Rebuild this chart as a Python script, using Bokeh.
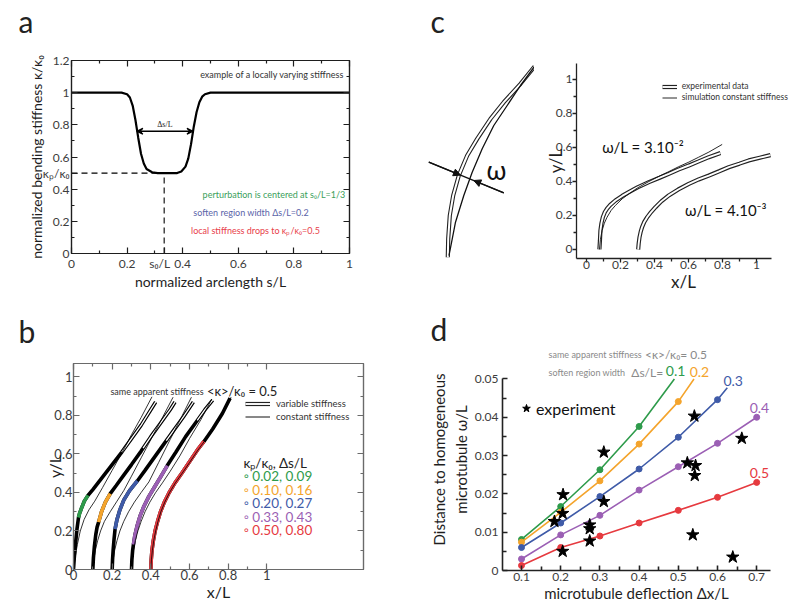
from math import pi
from bokeh.plotting import figure
from bokeh.layouts import row, column
from bokeh.models import (Label, LinearAxis, FixedTicker, Arrow, NormalHead, VeeHead,
                          Range1d, CustomJSTickFormatter, Legend, LegendItem)
from bokeh.embed import file_html
from bokeh.resources import INLINE

FONT = "Lato"
SERIF = "Liberation Serif"
INK = "#1e1e1e"
TICK_INK = "#3c3c3c"
GREEN, ORANGE, BLUE, PURPLE, RED = "#2e9b4b", "#f4a42c", "#3f5ba8", "#9b5fb4", "#e63a3f"
NAN = float("nan")
NBSP = "\u00a0"

# ---------------- data: panel a ----------------
a_s = [0, 0.18, 0.20, 0.21, 0.22, 0.23, 0.24, 0.25, 0.26, 0.27, 0.29, 0.31, 0.38, 0.395,
       0.41, 0.42, 0.43, 0.44, 0.45, 0.46, 0.47, 0.48, 0.50, 1.0]
a_kappa = [1, 1, 0.99, 0.97, 0.92, 0.83, 0.72, 0.62, 0.56, 0.525, 0.505, 0.50, 0.50, 0.51,
           0.54, 0.59, 0.68, 0.79, 0.88, 0.94, 0.975, 0.99, 1, 1]
a_xticks = [0, 0.2, 0.4, 0.6, 0.8, 1]
a_xminor = [0.1, 0.3, 0.5, 0.7, 0.9]
a_yticks = [0, 0.2, 0.4, 0.6, 0.8, 1, 1.2]
a_yminor = [0.1, 0.3, 0.5, 0.7, 0.9, 1.1]
a_s0 = 1 / 3
a_kp = 0.5
a_ds_ends = [0.235, 0.437]
a_ds_level = 0.76

# ---------------- data: panel b ----------------
b_var = [
    ([0, 0.004, 0.01, 0.018, 0.026, 0.031, 0.042, 0.056, 0.075, 0.10, 0.15, 0.20, 0.25, 0.30, 0.35, 0.40, 0.425],
     [0, 0.06, 0.13, 0.21, 0.27, 0.29, 0.32, 0.355, 0.385, 0.415, 0.48, 0.545, 0.61, 0.68, 0.75, 0.83, 0.87]),
    ([0.1, 0.103, 0.108, 0.115, 0.122, 0.13, 0.145, 0.165, 0.19, 0.22, 0.26, 0.3, 0.35, 0.4, 0.45, 0.5, 0.525],
     [0, 0.06, 0.12, 0.18, 0.22, 0.246, 0.3, 0.35, 0.394, 0.435, 0.49, 0.545, 0.615, 0.69, 0.76, 0.83, 0.87]),
    ([0.2, 0.202, 0.205, 0.21, 0.215, 0.225, 0.24, 0.26, 0.29, 0.33, 0.37, 0.42, 0.47, 0.52, 0.57, 0.62],
     [0, 0.05, 0.1, 0.16, 0.21, 0.26, 0.31, 0.36, 0.41, 0.46, 0.515, 0.585, 0.655, 0.725, 0.795, 0.87]),
    ([0.3, 0.302, 0.306, 0.31, 0.318, 0.33, 0.345, 0.365, 0.39, 0.42, 0.45, 0.485, 0.53, 0.58, 0.63, 0.68, 0.72],
     [0, 0.05, 0.1, 0.13, 0.18, 0.23, 0.28, 0.33, 0.38, 0.43, 0.48, 0.54, 0.61, 0.69, 0.76, 0.83, 0.88]),
    ([0.4, 0.402, 0.406, 0.413, 0.422, 0.435, 0.45, 0.47, 0.495, 0.525, 0.56, 0.6, 0.64, 0.675, 0.72, 0.77, 0.81],
     [0, 0.05, 0.1, 0.15, 0.2, 0.25, 0.3, 0.35, 0.4, 0.45, 0.5, 0.56, 0.62, 0.665, 0.73, 0.81, 0.89]),
]
b_soft = [
    ([0.026, 0.031, 0.042, 0.056, 0.075], [0.27, 0.29, 0.32, 0.355, 0.385]),
    ([0.13, 0.145, 0.165, 0.19], [0.246, 0.3, 0.35, 0.394]),
    ([0.215, 0.225, 0.24, 0.26, 0.29, 0.33], [0.21, 0.26, 0.31, 0.36, 0.41, 0.46]),
    ([0.31, 0.318, 0.33, 0.345, 0.365, 0.39, 0.42, 0.45, 0.485], [0.13, 0.18, 0.23, 0.28, 0.33, 0.38, 0.43, 0.48, 0.54]),
    ([0.4, 0.402, 0.406, 0.413, 0.422, 0.435, 0.45, 0.47, 0.495, 0.525, 0.56, 0.6, 0.64, 0.675],
     [0, 0.05, 0.1, 0.15, 0.2, 0.25, 0.3, 0.35, 0.4, 0.45, 0.5, 0.56, 0.62, 0.665]),
]
# upper parts where the individual open circles of the variable-stiffness data are visible
b_open = [
    ([0.25, 0.30, 0.35, 0.40, 0.425], [0.61, 0.68, 0.75, 0.83, 0.87]),
    ([0.36, 0.4, 0.45, 0.5, 0.525], [0.63, 0.69, 0.76, 0.83, 0.87]),
    ([0.48, 0.52, 0.57, 0.62], [0.67, 0.725, 0.795, 0.87]),
    ([0.64, 0.68, 0.72], [0.775, 0.83, 0.88]),
]
b_const = [
    ([0, 0.008, 0.02, 0.035, 0.055, 0.08, 0.11, 0.15, 0.2, 0.25, 0.3, 0.35, 0.406],
     [0, 0.06, 0.13, 0.2, 0.26, 0.31, 0.355, 0.425, 0.515, 0.605, 0.7, 0.79, 0.897]),
    ([0.1, 0.105, 0.113, 0.125, 0.14, 0.16, 0.19, 0.225, 0.26, 0.3, 0.35, 0.4, 0.45, 0.515],
     [0, 0.05, 0.1, 0.15, 0.2, 0.25, 0.3, 0.355, 0.41, 0.485, 0.58, 0.675, 0.77, 0.895]),
    ([0.2, 0.205, 0.213, 0.225, 0.24, 0.26, 0.285, 0.315, 0.35, 0.39, 0.44, 0.5, 0.56, 0.61],
     [0, 0.05, 0.1, 0.15, 0.2, 0.25, 0.3, 0.35, 0.4, 0.455, 0.555, 0.675, 0.795, 0.895]),
    ([0.3, 0.304, 0.31, 0.32, 0.333, 0.35, 0.37, 0.395, 0.425, 0.46, 0.5, 0.55, 0.6, 0.66, 0.715],
     [0, 0.05, 0.1, 0.15, 0.2, 0.25, 0.3, 0.35, 0.4, 0.45, 0.51, 0.59, 0.68, 0.78, 0.885]),
    ([0.4, 0.403, 0.408, 0.415, 0.425, 0.437, 0.452, 0.472, 0.497, 0.527, 0.562, 0.6, 0.64, 0.68, 0.72, 0.77, 0.815],
     [0, 0.05, 0.1, 0.15, 0.2, 0.25, 0.3, 0.35, 0.4, 0.45, 0.5, 0.555, 0.615, 0.67, 0.73, 0.81, 0.895]),
]
b_colors = [GREEN, ORANGE, BLUE, PURPLE, RED]
b_kp = ["0.02", "0.10", "0.20", "0.33", "0.50"]
b_ds = ["0.09", "0.16", "0.27", "0.43", "0.80"]
b_ticks = [0, 0.2, 0.4, 0.6, 0.8, 1]
b_minor = [0.1, 0.3, 0.5, 0.7, 0.9]

# ---------------- data: panel c ----------------
c_exp1_x = [0.076, 0.079, 0.082, 0.088, 0.096, 0.108, 0.121, 0.14, 0.17, 0.21, 0.249, 0.30, 0.367, 0.43,
            0.484, 0.54, 0.602, 0.66, 0.72, 0.788]
c_exp1_y = [0.0, 0.05, 0.112, 0.155, 0.19, 0.22, 0.24, 0.262, 0.288, 0.315, 0.337, 0.365, 0.396, 0.422,
            0.445, 0.47, 0.494, 0.518, 0.543, 0.567]
c_sim1_x = [0.076, 0.082, 0.092, 0.105, 0.121, 0.145, 0.17, 0.21, 0.249, 0.30, 0.367, 0.43, 0.484, 0.54,
            0.602, 0.66, 0.72, 0.798]
c_sim1_y = [0.0, 0.06, 0.112, 0.155, 0.19, 0.23, 0.259, 0.298, 0.327, 0.362, 0.40, 0.432, 0.458, 0.486,
            0.514, 0.543, 0.573, 0.618]
c_exp2_x = [0.304, 0.307, 0.312, 0.319, 0.327, 0.34, 0.357, 0.38, 0.406, 0.44, 0.484, 0.54, 0.602, 0.66,
            0.72, 0.78, 0.837, 0.9, 0.955, 1.02, 1.082]
c_exp2_y = [0.0, 0.035, 0.073, 0.105, 0.132, 0.162, 0.19, 0.22, 0.249, 0.283, 0.318, 0.353, 0.386, 0.412,
            0.435, 0.46, 0.484, 0.505, 0.524, 0.54, 0.555]
c_ticks = [0, 0.2, 0.4, 0.6, 0.8, 1]
c_minor = [0.1, 0.3, 0.5, 0.7, 0.9]
# schematic (enlarged view, arbitrary units)
cs_exp_x = [47.3, 47.7, 49.3, 52.7, 58.3, 66.7, 76.7, 90, 103.3, 120, 134]
cs_exp_y = [49.3, 67.7, 91, 111, 131, 151, 167.7, 187.7, 204.3, 222.7, 240]
cs_sim_x = [48.5, 55, 63.3, 71.7, 81.7, 93.3, 106.7, 120, 134]
cs_sim_y = [51, 84.3, 111, 134.3, 157.7, 181, 201, 221, 240]
cs_cut_x = [28.3, 103.3]
cs_cut_y = [144.3, 113.7]
cs_hit_x = [60, 73.3]
cs_hit_y = [131.4, 126]

# ---------------- data: panel d ----------------
d_x = [0.1, 0.2, 0.3, 0.4, 0.5, 0.6, 0.7]
d_w01 = [0.0081, 0.0167, 0.0263, 0.0376]
d_w02 = [0.0074, 0.0152, 0.0234, 0.033, 0.0441]
d_w03 = [0.006, 0.0124, 0.0193, 0.0265, 0.0348, 0.0446]
d_w04 = [0.003, 0.0093, 0.0144, 0.021, 0.0271, 0.0332, 0.040]
d_w05 = [0.0013, 0.006, 0.009, 0.0124, 0.0157, 0.0191, 0.023]
d_tail_x = [0.49, 0.54, 0.625, None, None]
d_tail_y = [0.05, 0.05, 0.0477, None, None]
d_names = ["0.1", "0.2", "0.3", "0.4", "0.5"]
d_exp_x = [0.31, 0.206, 0.205, 0.184, 0.31, 0.274, 0.274, 0.274, 0.205, 0.541, 0.523, 0.544, 0.542,
           0.662, 0.537, 0.639]
d_exp_y = [0.0309, 0.0198, 0.0149, 0.0128, 0.018, 0.0119, 0.0109, 0.0077, 0.005, 0.0403, 0.0281,
           0.0274, 0.0248, 0.0345, 0.0093, 0.0035]
d_xticks = [0.1, 0.2, 0.3, 0.4, 0.5, 0.6, 0.7]
d_xminor = [0.15, 0.25, 0.35, 0.45, 0.55, 0.65]
d_yticks = [0, 0.01, 0.02, 0.03, 0.04, 0.05]
d_yminor = [0.005, 0.015, 0.025, 0.035, 0.045]


# ---------------- helpers ----------------
def fmt(special=None, blank=False):
    if blank:
        return CustomJSTickFormatter(code="return '';")
    special = special or {}
    return CustomJSTickFormatter(
        args=dict(sv=list(special.keys()), sl=list(special.values())),
        code="""
        for (let i = 0; i < sv.length; i++) { if (Math.abs(tick - sv[i]) < 1e-6) return sl[i]; }
        return String(Math.round(tick*1000000)/1000000);
        """)


def style_axis(ax, major, minor, tin=0, tout=0, mtin=0, mtout=0, px=12, color=INK,
               labels=True, standoff=3, width=1, special=None):
    ax.ticker = FixedTicker(ticks=major, minor_ticks=minor)
    ax.formatter = fmt(special, blank=not labels)
    ax.major_tick_in = tin
    ax.major_tick_out = tout
    ax.minor_tick_in = mtin
    ax.minor_tick_out = mtout
    ax.axis_line_color = color
    ax.major_tick_line_color = color
    ax.minor_tick_line_color = color
    ax.axis_line_width = width
    ax.major_tick_line_width = width
    ax.minor_tick_line_width = width
    ax.major_label_text_font = FONT
    ax.major_label_text_font_size = f"{px}px" if labels else "1px"
    ax.major_label_text_color = TICK_INK
    ax.major_label_standoff = standoff if labels else 0


def axis_title(ax, text, px, standoff):
    ax.axis_label = text
    ax.axis_label_text_font = FONT
    ax.axis_label_text_font_style = "normal"
    ax.axis_label_text_font_size = f"{px}px"
    ax.axis_label_text_color = INK
    ax.axis_label_standoff = standoff


def lab(p, x, y, text, size=10, color=INK, align="left", baseline="middle", font=FONT, angle=0):
    p.add_layout(Label(x=x, y=y, text=text, text_font_size=f"{size}px", text_color=color,
                       text_align=align, text_baseline=baseline, text_font=font, angle=angle))


def base(width, height, xr, yr, l, r, t, b, **kw):
    p = figure(width=width, height=height, x_range=Range1d(*xr), y_range=Range1d(*yr),
               toolbar_location=None, output_backend="svg",
               min_border_left=l, min_border_right=r, min_border_top=t, min_border_bottom=b, **kw)
    p.frame_align = False
    p.xgrid.visible = False
    p.ygrid.visible = False
    p.background_fill_color = None
    p.border_fill_color = "white"
    return p


def blank(width, height, **kw):
    p = figure(width=width, height=height, x_range=Range1d(0, width), y_range=Range1d(0, height),
               x_axis_type=None, y_axis_type=None, toolbar_location=None, output_backend="svg",
               min_border=0, outline_line_color=None, **kw)
    p.frame_align = False
    p.background_fill_color = None
    return p


def legend_box(items, loc, gw, gh, px, color, standoff):
    return Legend(items=items, location=loc, glyph_width=gw, glyph_height=gh, label_height=gh,
                  label_standoff=standoff, spacing=0, padding=0, margin=0,
                  label_text_font=FONT, label_text_font_size=f"{px}px", label_text_color=color,
                  border_line_color=None, background_fill_alpha=0)


# ================= panel a =================
la = blank(400, 40)
lab(la, 18, 19.6, "a", 30, "#222")

pa = base(400, 266, (0, 1), (0, 1.2), 71, 51, 20, 53)
pa.outline_line_color = "#111111"
pa.outline_line_width = 1.2
style_axis(pa.xaxis[0], a_xticks + [a_s0], a_xminor, tin=6, mtin=3, px=12, standoff=2, width=1.2,
           special={a_s0: "s₀/L" + NBSP * 3})
style_axis(pa.yaxis[0], a_yticks + [a_kp], a_yminor, tin=6, mtin=3, px=12, standoff=2, width=1.2,
           special={a_kp: "κₚ/κ₀"})
axis_title(pa.xaxis[0], "normalized arclength s/L", 14, -1)
axis_title(pa.yaxis[0], "normalized bending stiffness κ/κ₀", 14, -5)
for loc, major, minor in (("above", a_xticks, a_xminor), ("right", a_yticks, a_yminor)):
    ax = LinearAxis()
    style_axis(ax, major, minor, tin=6, mtin=3, labels=False, width=1.2)
    pa.add_layout(ax, loc)

pa.line([0, a_s0], [a_kp, a_kp], line_color="black", line_width=1.1, line_dash="6 4")
pa.line([a_s0, a_s0], [0, a_kp], line_color="black", line_width=1.1, line_dash="6 4")
pa.line(a_s, a_kappa, line_color="black", line_width=2.2)
pa.add_layout(Arrow(start=VeeHead(size=6, line_width=1.3), end=VeeHead(size=6, line_width=1.3),
                    x_start=a_ds_ends[0], y_start=a_ds_level, x_end=a_ds_ends[1], y_end=a_ds_level,
                    line_width=1.3))
lab(pa, 0.336, 0.805, "Δs/L", 8, "#222", align="center", font=SERIF)
lab(pa, 0.98, 1.113, "example of a locally varying stiffness", 9, "#333", align="right")
lab(pa, 0.985, 0.366, "perturbation is centered at s₀/L=1/3", 9, "#3aa05a", align="right")
lab(pa, 0.438, 0.255, "soften region width Δs/L=0.2", 9, "#5a63a8")
lab(pa, 0.43, 0.145, "local stiffness drops to κₚ/κ₀=0.5", 9, "#e8404a")

# ================= panel c schematic =================
pcs = blank(134, 306)
pcs.line(cs_exp_x, cs_exp_y, line_color="#222222", line_width=4.2)
pcs.line(cs_exp_x, cs_exp_y, line_color="white", line_width=2.0)
pcs.line(cs_sim_x, cs_sim_y, line_color="#111111", line_width=1.3)
pcs.line(cs_cut_x, cs_cut_y, line_color="#111111", line_width=1.3)
for i in range(2):
    pcs.add_layout(Arrow(end=NormalHead(size=7, fill_color="#111111", line_color="#111111"),
                         x_start=cs_cut_x[i], y_start=cs_cut_y[i], x_end=cs_hit_x[i], y_end=cs_hit_y[i],
                         line_width=1.3, line_color="#111111"))
lab(pcs, 96, 137, "ω", 26, "#111", align="center")
lab(pcs, 30, 285.6, "c", 30, "#222")

# ================= panel c plot =================
pc = base(266, 306, (-0.0588, 1.2), (-0.053, 1.094), 42, 10, 63, 48)
pc.outline_line_color = None
style_axis(pc.xaxis[0], c_ticks, c_minor, tout=4, mtout=3, px=12, standoff=-2, color="#222", width=1.3)
style_axis(pc.yaxis[0], c_ticks, c_minor, tout=4, mtout=3, px=12, standoff=0, color="#222", width=1.3)
pc.xaxis[0].bounds = (-0.0588, 1.088)
axis_title(pc.xaxis[0], "x/L", 17, -1)
axis_title(pc.yaxis[0], "y/L", 17, -13)
e1a = pc.line(c_exp1_x, c_exp1_y, line_color="#222222", line_width=4.2)
e1b = pc.line(c_exp1_x, c_exp1_y, line_color="white", line_width=1.9)
pc.line(c_exp2_x, c_exp2_y, line_color="#222222", line_width=4.2)
pc.line(c_exp2_x, c_exp2_y, line_color="white", line_width=1.9)
s1 = pc.line(c_sim1_x, c_sim1_y, line_color="#111111", line_width=0.9)
pc.add_layout(legend_box([LegendItem(label="experimental data", renderers=[e1a, e1b]),
                          LegendItem(label="simulation constant stiffness", renderers=[s1])],
                         (85.7, 155.5), 15, 11, 8.5, "#333", 5))
lab(pc, 0.092, 0.60, "ω/L = 3.10⁻²", 15, "#111")
lab(pc, 0.58, 0.23, "ω/L = 4.10⁻³", 15, "#111")

# ================= panel b =================
lb = blank(400, 46)
lab(lb, 18, 21.6, "b", 30, "#222")

pb = base(400, 259, (0, 1.5), (0, 1.07), 73, 37, 11, 42)
pb.outline_line_color = "#6a6a6a"
pb.outline_line_width = 1.2
style_axis(pb.xaxis[0], b_ticks, b_minor, tin=6, mtin=3, px=13, standoff=0, color="#6a6a6a", width=1.2)
style_axis(pb.yaxis[0], b_ticks, b_minor, tin=6, mtin=3, px=13, standoff=1, color="#6a6a6a", width=1.2)
axis_title(pb.xaxis[0], "x/L", 16, -1)
axis_title(pb.yaxis[0], "y/L", 16, -13)
for loc in ("above", "right"):
    ax = LinearAxis()
    style_axis(ax, b_ticks, b_minor, tin=6, mtin=3, labels=False, color="#6a6a6a", width=1.2)
    pb.add_layout(ax, loc)
for (vx, vy), (sx, sy), col in zip(b_var, b_soft, b_colors):
    pb.line(vx, vy, line_color="black", line_width=3.6)
    pb.line(sx, sy, line_color=col, line_width=3.6)
for ox, oy in b_open:
    pb.line(ox, oy, line_color="white", line_width=1.3)
for cx, cy in b_const:
    pb.line(cx, cy, line_color="black", line_width=0.8)
lv_a = pb.line([NAN, NAN], [NAN, NAN], line_color="#222222", line_width=4.2)
lv_b = pb.line([NAN, NAN], [NAN, NAN], line_color="white", line_width=1.9)
lc = pb.line([NAN, NAN], [NAN, NAN], line_color="#111111", line_width=1.0)
pb.add_layout(legend_box([LegendItem(label="variable stiffness", renderers=[lv_a, lv_b]),
                          LegendItem(label="constant stiffness", renderers=[lc])],
                         (172, 146.4), 25, 13, 9.5, "#333", 6))
lab(pb, 0.191, 0.925, "same apparent stiffness", 9, "#333")
lab(pb, 0.69, 0.925, "<κ>/κ₀ = 0.5", 13, "#222")
lab(pb, 0.879, 0.551, "κₚ/κ₀, Δs/L", 13.5, "#222")
for i, (kp, ds, col) in enumerate(zip(b_kp, b_ds, b_colors)):
    lab(pb, 0.879, 0.485 - 0.0705 * i, f"◦ {kp}, {ds}", 13.5, col)

# ================= panel d =================
ld = blank(400, 42)
lab(ld, 30, 19.6, "d", 30, "#222")

pdd = base(400, 263, (0.0515, 0.7352), (0, 0.05796), 102, 30, 0, 41)
pdd.outline_line_color = None
style_axis(pdd.xaxis[0], d_xticks, d_xminor, tin=5, mtin=4, px=12, standoff=2, color="#222", width=1.6)
style_axis(pdd.yaxis[0], d_yticks, d_yminor, tin=5, mtin=4, px=12, standoff=4, color="#222", width=1.6)
pdd.yaxis[0].bounds = (0, 0.05)
axis_title(pdd.xaxis[0], "microtubule deflection Δx/L", 15, 0)
axis_title(pdd.yaxis[0], "Distance to homogeneous\nmicrotubule ω/L", 15, 2)
d_series = [d_w01, d_w02, d_w03, d_w04, d_w05]
for vals, col, tx, ty in zip(d_series, b_colors, d_tail_x, d_tail_y):
    xs = d_x[:len(vals)]
    lx, ly = list(xs), list(vals)
    if tx is not None:
        lx.append(tx)
        ly.append(ty)
    pdd.line(lx, ly, line_color=col, line_width=1.6)
    pdd.scatter(xs, vals, size=6, color=col)
stars = pdd.scatter(d_exp_x, d_exp_y, marker="star", size=13, color="black")
pdd.add_layout(legend_box([LegendItem(label="experiment", renderers=[stars])],
                          (14, 151.7), 20, 20, 16, "#111", 0))
lab(pdd, 0.169, 0.0563, "same apparent stiffness", 9, "#8a8a8a")
lab(pdd, 0.415, 0.0563, "<κ>/κ₀= 0.5", 12, "#8a8a8a")
lab(pdd, 0.169, 0.0518, "soften region width", 9, "#8a8a8a")
lab(pdd, 0.38, 0.0518, "Δs/L=", 12, "#8a8a8a")
for name, col, x, y in zip(d_names, b_colors, [0.468, 0.529, 0.615, 0.682, 0.682],
                           [0.0522, 0.0518, 0.0496, 0.0423, 0.0255]):
    lab(pdd, x, y, name, 14, col)

layout = column(row(column(la, pa), pcs, pc), row(column(lb, pb), column(ld, pdd)))
open("out.html", "w").write(file_html(layout, INLINE))
